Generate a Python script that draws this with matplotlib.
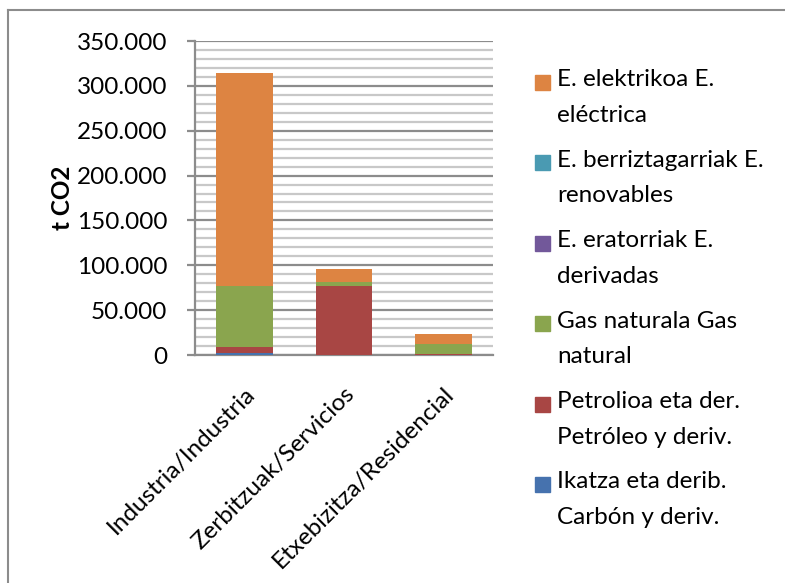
import numpy as np
import matplotlib

matplotlib.use("Agg")
import matplotlib.pyplot as plt
from matplotlib.patches import Rectangle
from matplotlib.ticker import MultipleLocator, FuncFormatter

# data (t CO2)
sectors = ["Industria/Industria", "Zerbitzuak/Servicios", "Etxebizitza/Residencial"]
ikatza = [2000, 0, 0]
petrolioa = [7300, 77300, 1500]
gas = [68000, 4400, 11000]
eratorriak = [0, 0, 0]
berriztagarriak = [0, 0, 0]
elektrikoa = [236700, 13900, 10900]

# bottom -> top stacking order
series_names = [
    "Ikatza eta derib.\nCarbón y deriv.",
    "Petrolioa eta der.\nPetróleo y deriv.",
    "Gas naturala Gas\nnatural",
    "E. eratorriak E.\nderivadas",
    "E. berriztagarriak E.\nrenovables",
    "E. elektrikoa E.\neléctrica",
]
series_values = [ikatza, petrolioa, gas, eratorriak, berriztagarriak, elektrikoa]
colors = ["#4672AE", "#A84644", "#8AA54E", "#72589A", "#4A9AB2", "#DD8442"]

plt.rcParams["font.family"] = ["Lato", "DejaVu Sans"]
FS = 17.5

fig = plt.figure(figsize=(7.85, 5.83), dpi=100)
W, H = 785, 583
ax = fig.add_axes([195 / W, 1 - 355 / H, 298 / W, 314 / H])

x = np.arange(len(sectors))
bottom = np.zeros(len(sectors))
for vals, col in zip(series_values, colors):
    vals = np.array(vals, dtype=float)
    ax.bar(x, vals, width=0.57, bottom=bottom, color=col, zorder=3)
    bottom += vals

ax.set_xlim(-0.5, len(sectors) - 0.5)
ax.set_ylim(0, 350000)
ax.yaxis.set_major_locator(MultipleLocator(50000))
ax.yaxis.set_minor_locator(MultipleLocator(10000))
ax.yaxis.set_major_formatter(
    FuncFormatter(lambda v, p: "0" if v == 0 else f"{int(v):,}".replace(",", "."))
)
ax.grid(axis="y", which="minor", color="#C8C8C8", linewidth=1.6, zorder=0)
ax.grid(axis="y", which="major", color="#8C8C8C", linewidth=1.6, zorder=1)
for s in ["top", "right"]:
    ax.spines[s].set_visible(False)
ax.spines["left"].set_color("#8C8C8C")
ax.spines["left"].set_linewidth(1.6)
ax.spines["bottom"].set_color("#8C8C8C")
ax.spines["bottom"].set_linewidth(1.6)
ax.tick_params(axis="y", which="major", length=5.8, width=1.6, color="#8C8C8C",
               labelsize=FS, pad=14)
ax.tick_params(axis="y", which="minor", length=0)
ax.tick_params(axis="x", length=0, labelsize=FS, pad=20)
ax.set_xticks(x)
ax.set_xticklabels(sectors, rotation=45, ha="right", va="top", rotation_mode="anchor")
ax.set_ylabel("t CO2", fontsize=FS, fontweight="bold", labelpad=2)

# legend, top series first
for i, (name, col) in enumerate(zip(series_names[::-1], colors[::-1])):
    yc = 82.5 + i * 80.4
    fig.patches.append(Rectangle((535 / W, 1 - (yc + 7.5) / H), 15 / W, 15 / H,
                                 transform=fig.transFigure, color=col))
    fig.text(557 / W, 1 - (yc - 13) / H, name, fontsize=FS, va="top", ha="left",
             linespacing=1.85)

# chart frame (only top and left edges visible in the crop)
fig.add_artist(plt.Line2D([8 / W, 8 / W], [0, 1 - 10 / H], transform=fig.transFigure,
                          color="#8C8C8C", linewidth=1.5))
fig.add_artist(plt.Line2D([8 / W, 1], [1 - 10 / H, 1 - 10 / H], transform=fig.transFigure,
                          color="#8C8C8C", linewidth=1.5))

fig.savefig("out.png", dpi=100)
